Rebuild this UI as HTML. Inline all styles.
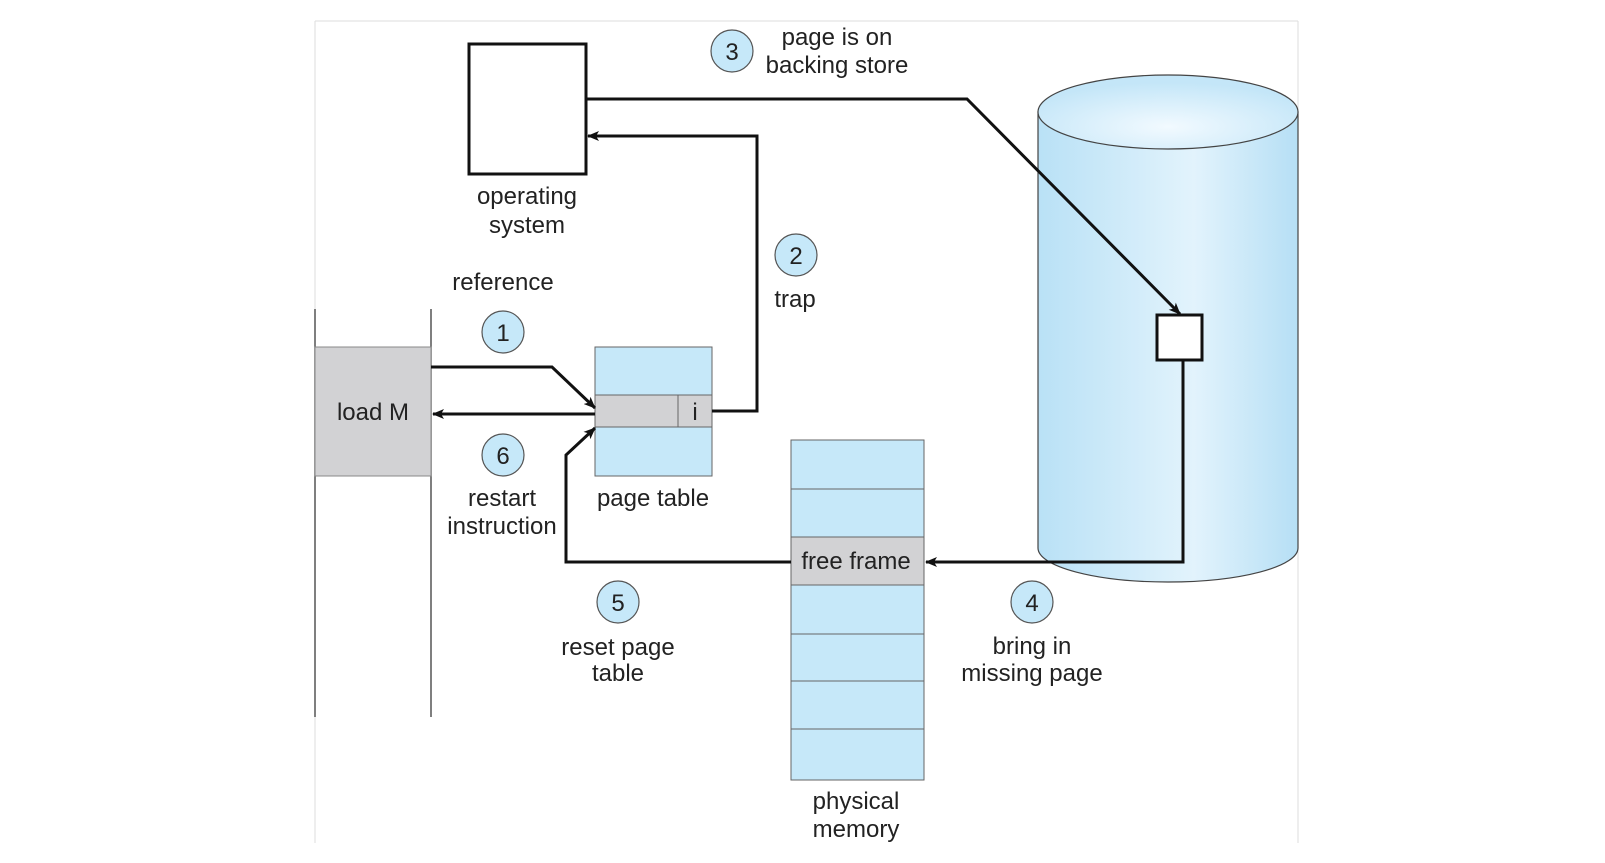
<!DOCTYPE html>
<html><head><style>
html,body{margin:0;padding:0;background:#fff;}
svg{display:block;}
text{font-family:"Liberation Sans",Arial,sans-serif;font-size:24px;fill:#222;text-anchor:middle;}
</style></head><body>
<svg width="1605" height="863" viewBox="0 0 1605 863" xmlns="http://www.w3.org/2000/svg">
<defs>
<linearGradient id="cyl" x1="0" x2="1" y1="0" y2="0">
<stop offset="0" stop-color="#b9e1f6"/><stop offset="0.6" stop-color="#e2f3fc"/><stop offset="1" stop-color="#b6dff5"/>
</linearGradient>
<radialGradient id="top" cx="0.5" cy="0.7" r="0.6"><stop offset="0" stop-color="#f2faff"/><stop offset="1" stop-color="#c4e6f8"/></radialGradient>
<marker id="ar" markerWidth="12" markerHeight="10" refX="11" refY="5" orient="auto" markerUnits="userSpaceOnUse">
<path d="M0,0 L12,5 L0,10 L3,5 Z" fill="#111"/></marker>
</defs>
<!-- frame -->
<line x1="315" y1="21" x2="1298" y2="21" stroke="#ddd" stroke-width="1"/>
<line x1="315" y1="21" x2="315" y2="843" stroke="#ddd" stroke-width="1"/>
<line x1="1298" y1="21" x2="1298" y2="843" stroke="#ddd" stroke-width="1"/>
<!-- cylinder -->
<path d="M1038,112 L1038,548 A130,34 0 0 0 1298,548 L1298,112 Z" fill="url(#cyl)" stroke="#444" stroke-width="1.2"/>
<ellipse cx="1168" cy="112" rx="130" ry="37" fill="url(#top)" stroke="#444" stroke-width="1.2"/>
<!-- program -->
<line x1="315" y1="309" x2="315" y2="717" stroke="#555" stroke-width="1.5"/>
<line x1="431" y1="309" x2="431" y2="717" stroke="#555" stroke-width="1.5"/>
<rect x="315" y="347" width="116" height="129" fill="#d2d2d4" stroke="#888" stroke-width="1"/>
<text x="373" y="420">load M</text>
<!-- OS -->
<rect x="469" y="44" width="117" height="130" fill="#fff" stroke="#111" stroke-width="3"/>
<text x="527" y="204">operating</text><text x="527" y="233">system</text>
<!-- page table -->
<rect x="595" y="347" width="117" height="129" fill="#c6e8f9" stroke="#666" stroke-width="1"/>
<rect x="595" y="395" width="117" height="32" fill="#d2d2d4" stroke="#666" stroke-width="1"/>
<line x1="678" y1="395" x2="678" y2="427" stroke="#666"/>
<text x="695" y="420">i</text>
<text x="653" y="506">page table</text>
<!-- physical memory -->
<rect x="791" y="440" width="133" height="340" fill="#c6e8f9" stroke="#666" stroke-width="1"/>
<rect x="791" y="537" width="133" height="48" fill="#d2d2d4" stroke="#666" stroke-width="1"/>
<g stroke="#666" stroke-width="1"><line x1="791" y1="489" x2="924" y2="489"/><line x1="791" y1="634" x2="924" y2="634"/><line x1="791" y1="681" x2="924" y2="681"/><line x1="791" y1="729" x2="924" y2="729"/></g>
<text x="856" y="569">free frame</text>
<text x="856" y="809">physical</text><text x="856" y="837">memory</text>
<!-- small box in disk -->
<rect x="1157" y="315" width="45" height="45" fill="#fff" stroke="#111" stroke-width="3"/>
<!-- arrows -->
<g fill="none" stroke="#111" stroke-width="3">
<polyline points="431,367 552,367 595,408" marker-end="url(#ar)"/>
<line x1="595" y1="414" x2="433" y2="414" marker-end="url(#ar)"/>
<polyline points="712,411 757,411 757,136 588,136" marker-end="url(#ar)"/>
<polyline points="586,99 967,99 1180,314" marker-end="url(#ar)"/>
<polyline points="1183,360 1183,562 926,562" marker-end="url(#ar)"/>
<polyline points="791,562 566,562 566,455 595,428" marker-end="url(#ar)"/>
</g>
<!-- circles -->
<g fill="#c6e8f9" stroke="#555" stroke-width="1.2">
<circle cx="503" cy="332" r="21"/><circle cx="503" cy="455" r="21"/>
<circle cx="796" cy="255" r="21"/><circle cx="732" cy="51" r="21"/>
<circle cx="1032" cy="602" r="21"/><circle cx="618" cy="602" r="21"/>
</g>
<text x="503" y="341">1</text><text x="503" y="464">6</text>
<text x="796" y="264">2</text><text x="732" y="60">3</text>
<text x="1032" y="611">4</text><text x="618" y="611">5</text>
<!-- labels -->
<text x="837" y="45">page is on</text><text x="837" y="73">backing store</text>
<text x="503" y="290">reference</text>
<text x="795" y="307">trap</text>
<text x="502" y="506">restart</text><text x="502" y="534">instruction</text>
<text x="618" y="655">reset page</text><text x="618" y="681">table</text>
<text x="1032" y="654">bring in</text><text x="1032" y="681">missing page</text>
</svg>
</body></html>
